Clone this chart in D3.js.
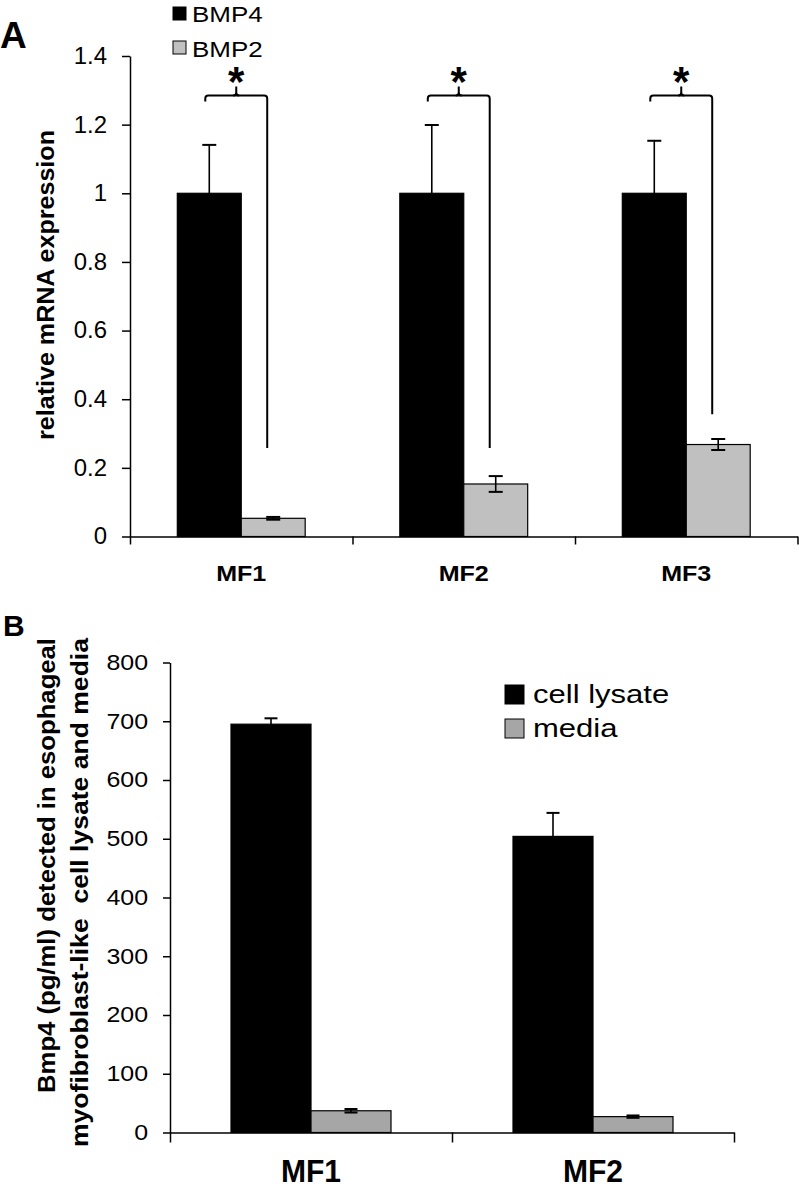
<!DOCTYPE html>
<html>
<head>
<meta charset="utf-8">
<script src="https://cdn.jsdelivr.net/npm/d3@7"></script>
<style>
  body { margin: 0; background: #fff; }
  text { font-family: "Liberation Sans", Arial, sans-serif; fill: #000; }
</style>
</head>
<body>
<svg id="chart"></svg>
<script>
// Panel A data
const categoriesA = ['MF1', 'MF2', 'MF3']
const seriesA = ['BMP4', 'BMP2']
const bmp4Values = [1, 1, 1]
const bmp4Errors = [0.141, 0.199, 0.153]
const bmp2Values = [0.053, 0.153, 0.268]
const bmp2Errors = [0.004, 0.023, 0.016]
const ticksA = [0, 0.2, 0.4, 0.6, 0.8, 1, 1.2, 1.4]
const bracketTop = 1.285
const bracketLegEnds = [0.258, 0.258, 0.356]

// Panel B data
const categoriesB = ['MF1', 'MF2']
const seriesB = ['cell lysate', 'media']
const lysateValues = [695, 504]
const lysateErrors = [10, 40]
const mediaValues = [37, 27]
const mediaErrors = [3, 2]
const ticksB = [0, 100, 200, 300, 400, 500, 600, 700, 800]

const width = 799
const height = 1195
const svg = d3.select('#chart').attr('width', width).attr('height', height)

// stretch text horizontally (the source figure uses a wider face)
function stretch(sel, k) {
  sel.each(function() {
    const w = this.getComputedTextLength()
    d3.select(this).attr('textLength', w * k).attr('lengthAdjust', 'spacingAndGlyphs')
  })
}

function panel(opts) {
  const g = svg.append('g')
  const x = d3.scaleBand().domain(opts.categories).range(opts.xRange)
  const xSub = d3.scaleBand().domain(opts.series).range([0, x.bandwidth()]).paddingOuter(opts.outerPad)
  const y = d3.scaleLinear().domain(opts.yDomain).range(opts.yRange)

  const rows = opts.categories.map((c, i) => ({
    cat: c,
    vals: opts.series.map((s, j) => ({ s, v: opts.values[j][i], e: opts.errors[j][i], fill: opts.colors[j] }))
  }))

  // bars
  const groups = g.selectAll('.grp').data(rows).enter().append('g')
    .attr('class', 'grp')
    .attr('transform', d => `translate(${x(d.cat)},0)`)

  groups.selectAll('rect').data(d => d.vals).enter().append('rect')
    .attr('x', d => xSub(d.s))
    .attr('width', xSub.bandwidth())
    .attr('y', d => y(d.v))
    .attr('height', d => y(0) - y(d.v))
    .attr('fill', d => d.fill)
    .attr('stroke', '#000')
    .attr('stroke-width', 1.2)

  // error bars
  const eb = groups.selectAll('.eb').data(d => d.vals).enter().append('g').attr('class', 'eb')
  const cx = d => xSub(d.s) + xSub.bandwidth() / 2
  eb.append('line')
    .attr('x1', cx).attr('x2', cx)
    .attr('y1', d => y(d.v - d.e)).attr('y2', d => y(d.v + d.e))
    .attr('stroke', '#000').attr('stroke-width', 1.6)
  eb.selectAll('.cap').data(d => [d.v - d.e, d.v + d.e].map(t => ({ t, d }))).enter().append('line')
    .attr('x1', c => cx(c.d) - opts.cap / 2).attr('x2', c => cx(c.d) + opts.cap / 2)
    .attr('y1', c => y(c.t)).attr('y2', c => y(c.t))
    .attr('stroke', '#000').attr('stroke-width', 2)

  // y axis
  const yAxis = g.append('g')
    .attr('transform', `translate(${opts.xRange[0]},0)`)
    .call(d3.axisLeft(y).tickValues(opts.ticks).tickFormat(opts.tickFormat)
      .tickSize(opts.tickSize).tickSizeOuter(0).tickPadding(opts.tickPad))
  yAxis.select('.domain').attr('stroke-width', 1.5)
  yAxis.selectAll('.tick line').attr('stroke-width', 1.5)
  yAxis.selectAll('text')
    .attr('font-family', '"Liberation Sans", Arial, sans-serif')
    .attr('font-size', opts.tickFont)
    .attr('fill', '#000')
    .call(stretch, opts.tickStretch)

  // x axis with ticks at category boundaries
  const xEdge = d3.scaleLinear().domain([0, opts.categories.length]).range(opts.xRange)
  const xAxis = g.append('g')
    .attr('transform', `translate(0,${y(0)})`)
    .call(d3.axisBottom(xEdge).tickValues(d3.range(opts.categories.length + 1))
      .tickFormat('').tickSize(opts.xTickSize).tickSizeOuter(0))
  xAxis.select('.domain').attr('stroke-width', 1.5)
  xAxis.selectAll('.tick line').attr('stroke-width', 1.5)

  // category labels
  g.selectAll('.cat').data(opts.categories).enter().append('text')
    .attr('class', 'cat')
    .attr('x', d => x(d) + x.bandwidth() / 2)
    .attr('y', opts.catY)
    .attr('text-anchor', 'middle')
    .attr('font-weight', 'bold')
    .attr('font-size', opts.catFont)
    .text(d => d)
    .call(stretch, opts.catStretch)

  return { g, x, xSub, y }
}

// ---------- Panel A ----------
const A = panel({
  categories: categoriesA, series: seriesA,
  values: [bmp4Values, bmp2Values], errors: [bmp4Errors, bmp2Errors],
  colors: ['#000', '#c0c0c0'],
  xRange: [130, 797.5], outerPad: 0.74,
  yDomain: [0, 1.4], yRange: [536.5, 56],
  ticks: ticksA, tickFormat: d => String(d), tickSize: 8, tickPad: 15, tickFont: 23, tickStretch: 1.04,
  xTickSize: 8, cap: 14,
  catY: 581, catFont: 22, catStretch: 1.14
})

// significance brackets
const brackets = A.g.selectAll('.bracket').data(categoriesA).enter().append('g').attr('class', 'bracket')
brackets.each(function(c, i) {
  const sel = d3.select(this)
  const xl = A.x(c) + A.xSub('BMP4') + A.xSub.bandwidth() / 2 - 4
  const xr = A.x(c) + A.xSub('BMP2') + A.xSub.bandwidth() / 2 - 6
  const xc = (xl + xr) / 2
  const yt = A.y(bracketTop)
  sel.append('path')
    .attr('d', `M${xl},${yt + 6} V${yt + 3} Q${xl},${yt} ${xl + 3},${yt} H${xr - 3} Q${xr},${yt} ${xr},${yt + 3} V${A.y(bracketLegEnds[i])}`)
    .attr('fill', 'none').attr('stroke', '#000').attr('stroke-width', 2)
  sel.append('path')
    .attr('d', `M${xc - 3},${yt} Q${xc},${yt} ${xc},${yt - 3} V${yt - 9} M${xc + 3},${yt} Q${xc},${yt} ${xc},${yt - 3}`)
    .attr('fill', 'none').attr('stroke', '#000').attr('stroke-width', 2)
  sel.append('text')
    .attr('x', xc).attr('y', yt + 1)
    .attr('text-anchor', 'middle')
    .attr('font-weight', 'bold').attr('font-size', 42)
    .text('*')
})

// legend A
const legA = svg.append('g')
legA.selectAll('rect').data(seriesA).enter().append('rect')
  .attr('x', 173).attr('y', (d, i) => 7 + i * 34)
  .attr('width', 13).attr('height', 13)
  .attr('fill', (d, i) => ['#000', '#c0c0c0'][i])
  .attr('stroke', '#000').attr('stroke-width', 1)
legA.selectAll('text').data(seriesA).enter().append('text')
  .attr('x', 192).attr('y', (d, i) => 22 + i * 34.5)
  .attr('font-size', 22)
  .text(d => d)
  .call(stretch, 1.18)

// y label A
svg.append('text')
  .attr('transform', 'translate(54,285) rotate(-90)')
  .attr('text-anchor', 'middle')
  .attr('font-weight', 'bold').attr('font-size', 23)
  .attr('textLength', 310).attr('lengthAdjust', 'spacingAndGlyphs')
  .text('relative mRNA expression')

svg.append('text').attr('x', 0).attr('y', 48)
  .attr('font-weight', 'bold').attr('font-size', 37).text('A')

// ---------- Panel B ----------
const B = panel({
  categories: categoriesB, series: seriesB,
  values: [lysateValues, mediaValues], errors: [lysateErrors, mediaErrors],
  colors: ['#000', '#a6a6a6'],
  xRange: [170, 734], outerPad: 0.7625,
  yDomain: [0, 800], yRange: [1132.5, 662.5],
  ticks: ticksB, tickFormat: d => String(d), tickSize: 7, tickPad: 15, tickFont: 21.5, tickStretch: 1.16,
  xTickSize: 10, cap: 13,
  catY: 1182, catFont: 31, catStretch: 0.97
})

// legend B
const legB = svg.append('g')
legB.selectAll('rect').data(seriesB).enter().append('rect')
  .attr('x', 505).attr('y', (d, i) => 685 + i * 34)
  .attr('width', 19).attr('height', 19)
  .attr('fill', (d, i) => ['#000', '#a6a6a6'][i])
  .attr('stroke', '#000').attr('stroke-width', 1)
legB.selectAll('text').data(seriesB).enter().append('text')
  .attr('x', 533).attr('y', (d, i) => 703 + i * 34)
  .attr('font-size', 26.5)
  .text(d => d)
  .call(stretch, 1.17)

// y label B, two lines ending at the same top point
const yLabB = ['Bmp4 (pg/ml) detected in esophageal', 'myofibroblast-like\u00a0 cell lysate and media']
const yLabLen = [455, 509]
svg.selectAll('.ylabB').data(yLabB).enter().append('text')
  .attr('class', 'ylabB')
  .attr('transform', (d, i) => `translate(${55 + i * 33},638) rotate(-90)`)
  .attr('text-anchor', 'end')
  .attr('font-weight', 'bold').attr('font-size', 23)
  .attr('textLength', (d, i) => yLabLen[i]).attr('lengthAdjust', 'spacingAndGlyphs')
  .text(d => d)

svg.append('text').attr('x', 3).attr('y', 636)
  .attr('font-weight', 'bold').attr('font-size', 30).text('B')
</script>
</body>
</html>
